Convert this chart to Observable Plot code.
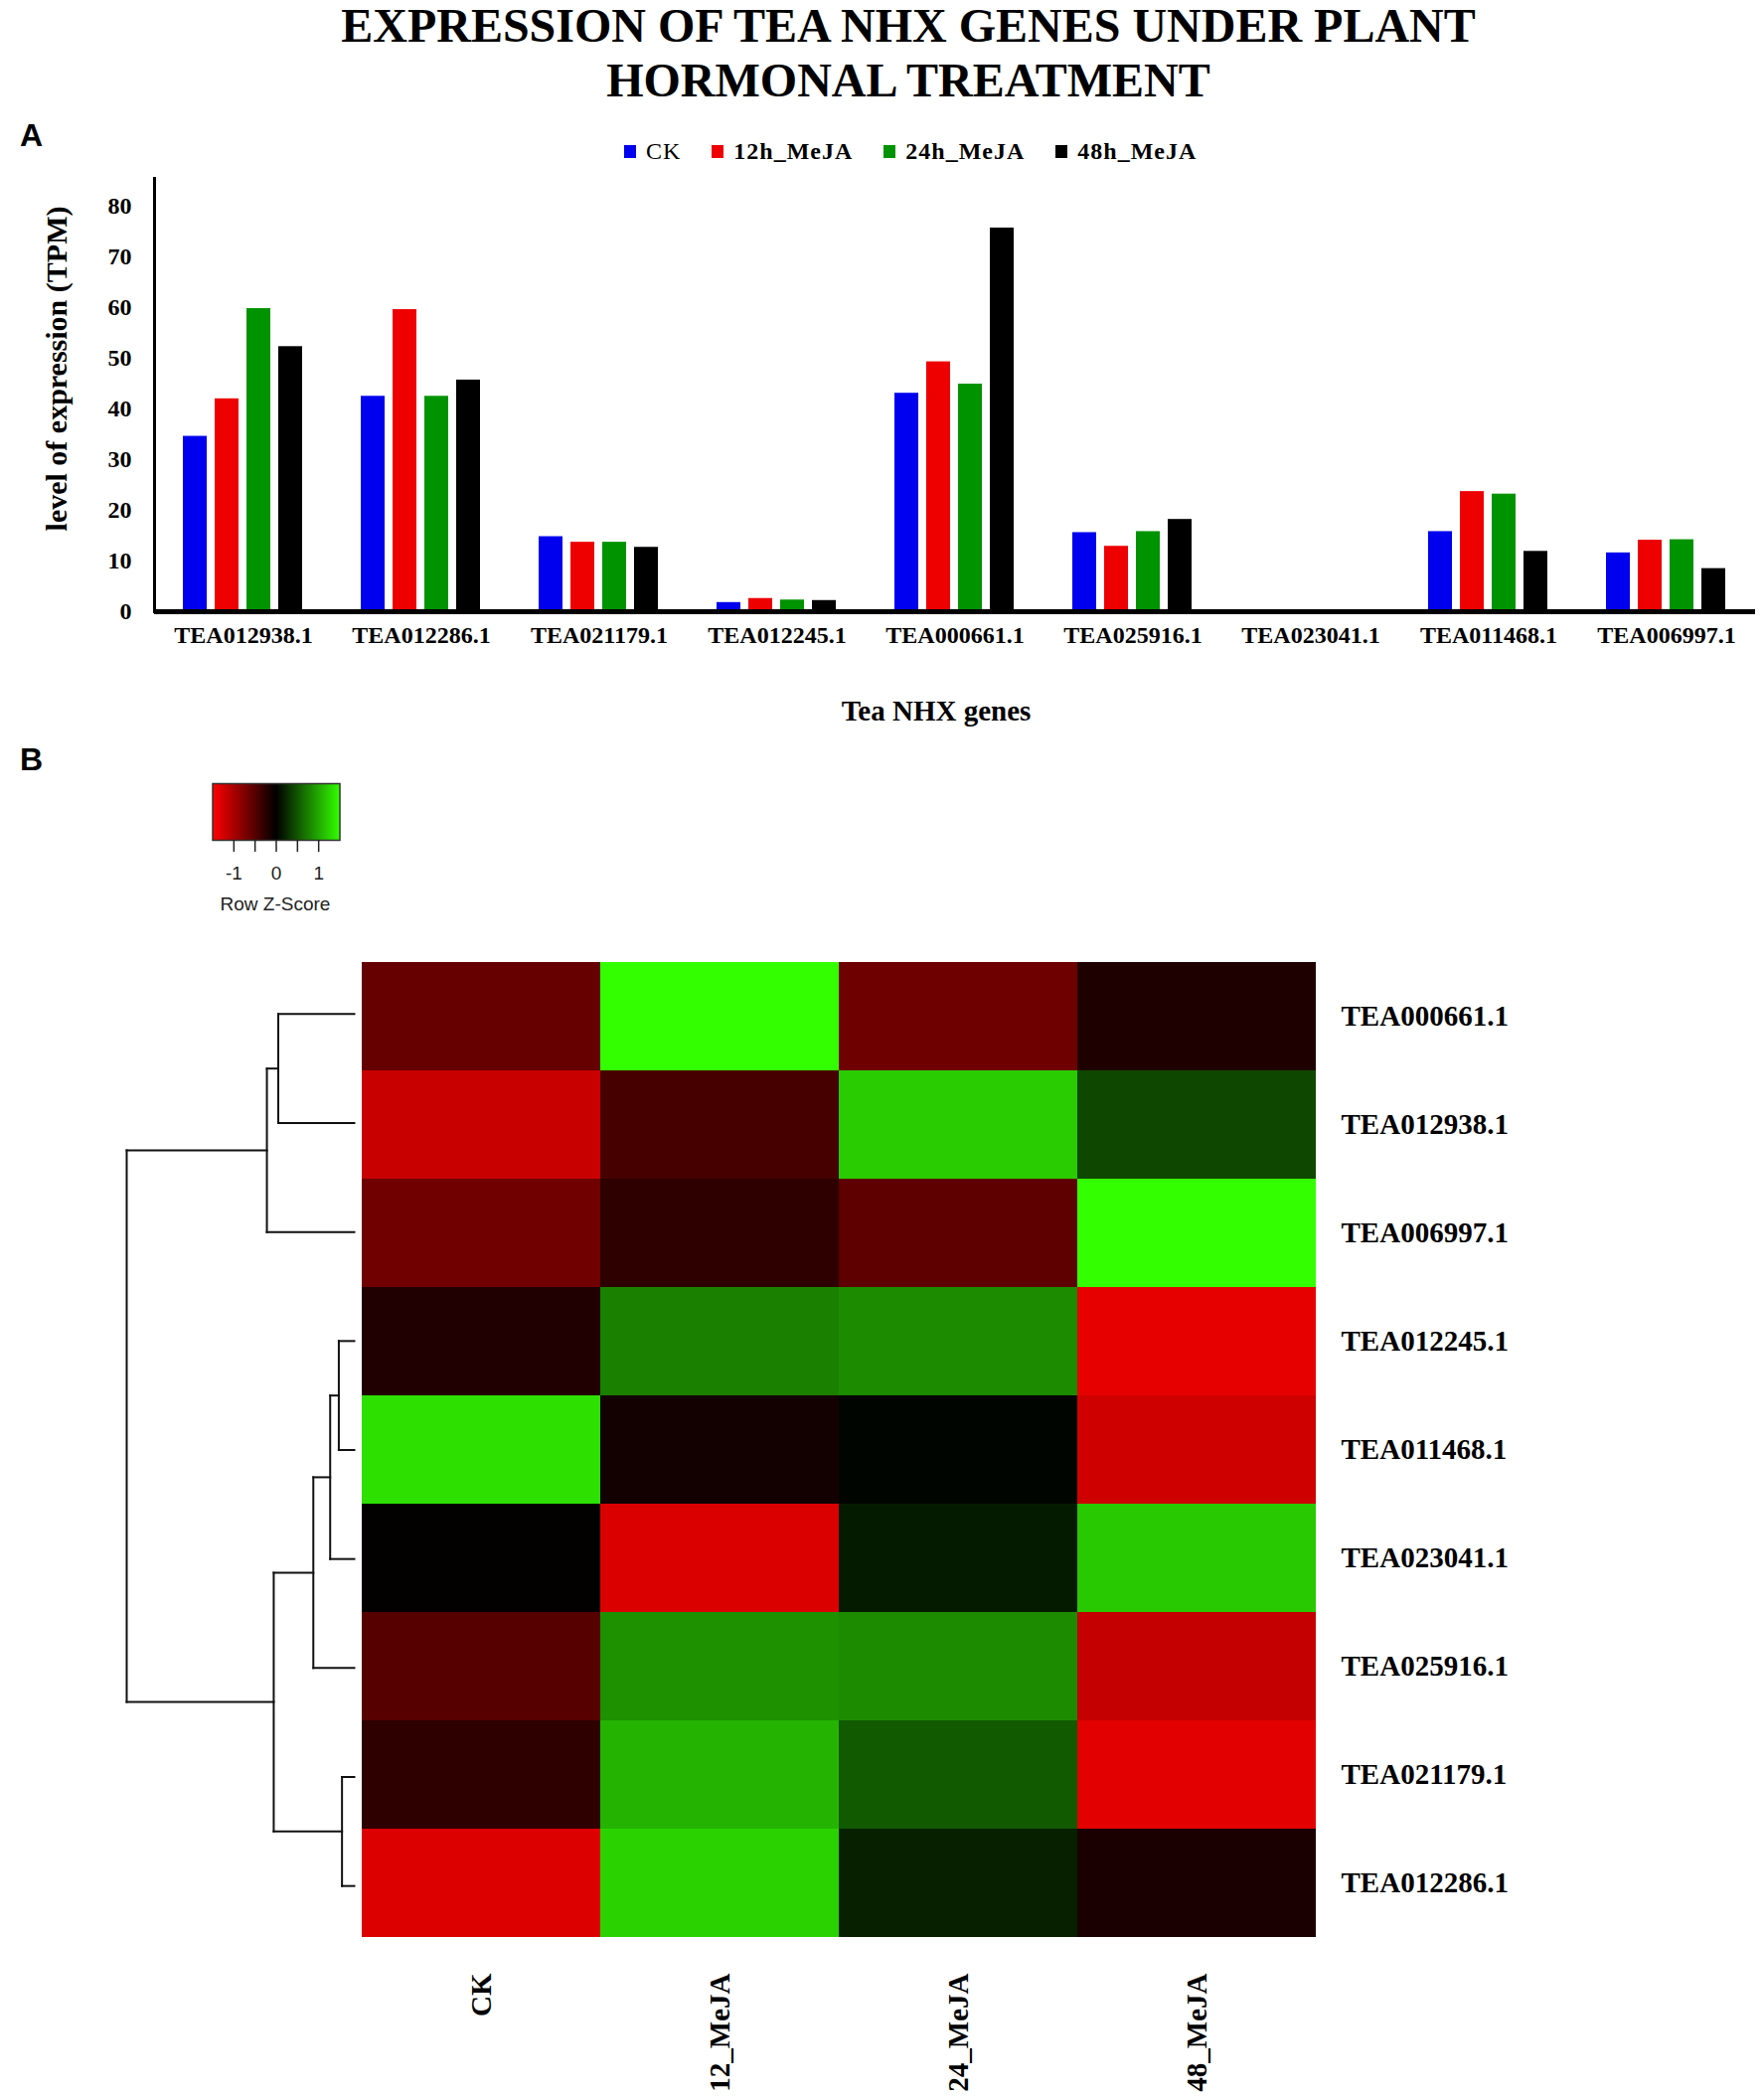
<!DOCTYPE html>
<html>
<head>
<meta charset="utf-8">
<script src="https://cdn.jsdelivr.net/npm/d3@7"></script>
<script src="https://cdn.jsdelivr.net/npm/@observablehq/plot@0.6"></script>
<style>
  html, body { margin: 0; padding: 0; background: #fff; }
  #page { position: relative; width: 1775px; height: 2112px; overflow: hidden; background: #fff;
          font-family: "Liberation Serif", "Times New Roman", serif; color: #000; }
  .abs { position: absolute; }
  #title { left: 914px; top: -2px; transform: translateX(-50%); white-space: nowrap; text-align: center;
           font-size: 48px; font-weight: bold; line-height: 55px; }
  .panel { font-family: "Liberation Sans", Arial, sans-serif; font-weight: bold; font-size: 32px; line-height: 1; left: 20px; }
  #legendA { left: 628px; top: 140px; display: flex; align-items: center; font-size: 24px; font-weight: bold; letter-spacing: 1px; line-height: 1; }
  #legendA .item { display: flex; align-items: center; margin-right: 31px; }
  #legendA .sw { width: 12px; height: 13px; margin-right: 10px; }
  #ytitle { left: 57px; top: 371px; transform: translate(-50%, -50%) rotate(-90deg); white-space: nowrap;
            font-size: 30px; font-weight: bold; line-height: 1; }
  #xtitle { left: 942px; top: 701px; transform: translateX(-50%); white-space: nowrap; font-size: 29px; font-weight: bold; line-height: 1; }
  #zlabel { left: 277px; top: 900px; transform: translateX(-50%); white-space: nowrap; font-family: "Liberation Sans", Arial, sans-serif;
            font-size: 19px; color: #222; line-height: 1; }
</style>
</head>
<body>
<div id="page">
  <div id="title" class="abs">EXPRESSION OF TEA NHX GENES UNDER PLANT<br>HORMONAL TREATMENT</div>
  <div class="abs panel" style="top:120px">A</div>
  <div class="abs panel" style="top:748px">B</div>
  <div id="legendA" class="abs"></div>
  <div id="ytitle" class="abs">level of expression (TPM)</div>
  <div id="xtitle" class="abs">Tea NHX genes</div>
  <div id="bars" class="abs" style="left:0;top:160px"></div>
  <div id="zkey" class="abs" style="left:200px;top:780px"></div>
  <div id="zlabel" class="abs">Row Z-Score</div>
  <div id="dendro" class="abs" style="left:0;top:965px"></div>
  <div id="heat" class="abs" style="left:364px;top:965px"></div>
</div>
<script>
// ---------------- Panel A data ----------------
const genes = ["TEA012938.1", "TEA012286.1", "TEA021179.1", "TEA012245.1", "TEA000661.1",
               "TEA025916.1", "TEA023041.1", "TEA011468.1", "TEA006997.1"];
const series = ["CK", "12h_MeJA", "24h_MeJA", "48h_MeJA"];
const seriesColors = ["#0000ee", "#ee0000", "#009300", "#000000"];
const ck    = [34.6, 42.5, 14.8, 1.8, 43.1, 15.6, 0, 15.8, 11.6];
const h12   = [42.0, 59.6, 13.7, 2.6, 49.3, 12.9, 0, 23.7, 14.1];
const h24   = [59.8, 42.5, 13.7, 2.3, 44.9, 15.8, 0, 23.2, 14.2];
const h48   = [52.3, 45.7, 12.7, 2.2, 75.7, 18.2, 0, 11.9, 8.5];
const yTicks = [0, 10, 20, 30, 40, 50, 60, 70, 80];
const yMax = 85.5;

// ---------------- Panel B data ----------------
const heatRows = ["TEA000661.1", "TEA012938.1", "TEA006997.1", "TEA012245.1", "TEA011468.1",
                  "TEA023041.1", "TEA025916.1", "TEA021179.1", "TEA012286.1"];
const heatCols = ["CK", "12_MeJA", "24_MeJA", "48_MeJA"];
const zCK  = [-0.60, -1.18, -0.66, -0.19,  1.32, -0.02, -0.51, -0.27, -1.30];
const z12  = [ 1.50, -0.42, -0.27,  0.75, -0.11, -1.29,  0.85,  1.06,  1.24];
const z24  = [-0.65,  1.20, -0.56,  0.82,  0.03,  0.16,  0.82,  0.53,  0.19];
const z48  = [-0.18,  0.42,  1.50, -1.36, -1.22,  1.18, -1.16, -1.33, -0.15];
const zDomain = [-1.5, 0, 1.5];
const zColors = ["#ff0000", "#000000", "#33ff00"];
const zTicks = [-1, -0.5, 0, 0.5, 1];
// dendrogram merges: [left, right, height]; numbers refer to earlier merges (1-based)
const merges = [
  ["TEA000661.1", "TEA012938.1", 1.67],
  [1, "TEA006997.1", 1.92],
  ["TEA012245.1", "TEA011468.1", 0.34],
  [3, "TEA023041.1", 0.53],
  [4, "TEA025916.1", 0.90],
  ["TEA021179.1", "TEA012286.1", 0.27],
  [5, 6, 1.77],
  [2, 7, 5.0]
];

const SERIF = "'Liberation Serif', 'Times New Roman', serif";
const SANS = "'Liberation Sans', Arial, sans-serif";

// ---------------- Legend A ----------------
const legendA = document.getElementById("legendA");
series.forEach((s, i) => {
  const item = document.createElement("div");
  item.className = "item";
  const sw = document.createElement("span");
  sw.className = "sw";
  sw.style.background = seriesColors[i];
  const t = document.createElement("span");
  t.textContent = s;
  if (i === 0) t.style.fontWeight = "normal";
  item.appendChild(sw); item.appendChild(t);
  legendA.appendChild(item);
});

// ---------------- Bar chart ----------------
const seriesValues = [ck, h12, h24, h48];
const barData = genes.flatMap((g, i) => series.map((s, j) => ({gene: g, series: s, value: seriesValues[j][i]})));

const barPlot = Plot.plot({
  width: 1775, height: 520,
  marginLeft: 152, marginRight: 7, marginTop: 19, marginBottom: 65,
  style: {background: "transparent", fontFamily: SERIF, fontWeight: "bold", fontSize: "24px", color: "#000", overflow: "visible"},
  fx: {domain: genes, padding: 0, label: null},
  x: {domain: series, paddingInner: 0.2424, paddingOuter: 0.842, axis: null},
  y: {domain: [0, yMax], label: null},
  color: {domain: series, range: seriesColors},
  marks: [
    Plot.barY(barData, {fx: "gene", x: "series", y: "value", fill: "series"}),
    Plot.ruleY([0], {stroke: "#000", strokeWidth: 5}),
    Plot.frame({anchor: "left", stroke: "#000", strokeWidth: 3, facetAnchor: "left"}),
    Plot.axisY({ticks: yTicks, tickSize: 0, tickPadding: 23, label: null, fontSize: 24, tickFormat: d => String(d)}),
    Plot.axisFx({anchor: "bottom", tickSize: 0, tickPadding: 14, label: null, fontSize: 24})
  ]
});
document.getElementById("bars").appendChild(barPlot);

// ---------------- Z-score key ----------------
const zKey = Plot.plot({
  width: 160, height: 145,
  marginLeft: 13.5, marginRight: 18.5, marginTop: 8, marginBottom: 80,
  style: {background: "transparent", fontFamily: SANS, fontSize: "19px", color: "#222", overflow: "visible"},
  x: {domain: [zDomain[0], zDomain[2]], label: null},
  y: {domain: [0, 1], axis: null},
  color: {type: "linear", domain: zDomain, range: zColors, interpolate: "rgb", clamp: true},
  marks: [
    Plot.raster({x1: zDomain[0], x2: zDomain[2], y1: 0, y2: 1, width: 128, height: 1, fill: (x, y) => x, imageRendering: "auto"}),
    Plot.frame({stroke: "#333", strokeWidth: 1.5}),
    Plot.axisX({anchor: "bottom", ticks: zTicks, tickSize: 12, tickPadding: 14, label: null, stroke: "#222", strokeWidth: 1.5,
                tickFormat: d => Number.isInteger(d) ? String(d) : ""})
  ]
});
document.getElementById("zkey").appendChild(zKey);

// ---------------- Dendrogram ----------------
const nodes = [];
function nodeOf(ref) {
  if (typeof ref === "number") return nodes[ref - 1];
  return {h: 0, y: heatRows.indexOf(ref)};
}
const segments = [];
merges.forEach(([a, b, h]) => {
  const A = nodeOf(a), B = nodeOf(b);
  segments.push({x1: A.h, x2: h, y1: A.y, y2: A.y});
  segments.push({x1: B.h, x2: h, y1: B.y, y2: B.y});
  segments.push({x1: h, x2: h, y1: A.y, y2: B.y});
  nodes.push({h, y: (A.y + B.y) / 2});
});
const dendro = Plot.plot({
  width: 364, height: 987,
  marginLeft: 127, marginRight: 8, marginTop: 0, marginBottom: 0,
  style: {background: "transparent", overflow: "visible"},
  x: {domain: [0, merges[merges.length - 1][2]], reverse: true, axis: null},
  y: {domain: [-0.5, heatRows.length - 0.5], reverse: true, axis: null},
  marks: [
    Plot.link(segments, {x1: "x1", y1: "y1", x2: "x2", y2: "y2", stroke: "#111", strokeWidth: 2, strokeLinecap: "square"})
  ]
});
document.getElementById("dendro").appendChild(dendro);

// ---------------- Heatmap ----------------
const zCols = [zCK, z12, z24, z48];
const heatData = heatRows.flatMap((g, i) => heatCols.map((c, j) => ({gene: g, col: c, z: zCols[j][i]})));
const heat = Plot.plot({
  width: 1411, height: 1147,
  marginLeft: 0, marginRight: 451, marginTop: 0, marginBottom: 160,
  style: {background: "transparent", fontFamily: SERIF, fontWeight: "bold", fontSize: "29px", color: "#000", overflow: "visible"},
  x: {domain: heatCols, padding: 0, label: null},
  y: {domain: heatRows, padding: 0, label: null},
  color: {type: "linear", domain: zDomain, range: zColors, interpolate: "rgb", clamp: true},
  marks: [
    Plot.cell(heatData, {x: "col", y: "gene", fill: "z", inset: 0, shapeRendering: "crispEdges"}),
    Plot.axisY({anchor: "right", tickSize: 0, tickPadding: 25, label: null}),
    Plot.axisX({anchor: "bottom", tickSize: 0, tickPadding: 33, tickRotate: -90, label: null})
  ]
});
document.getElementById("heat").appendChild(heat);
</script>
</body>
</html>
